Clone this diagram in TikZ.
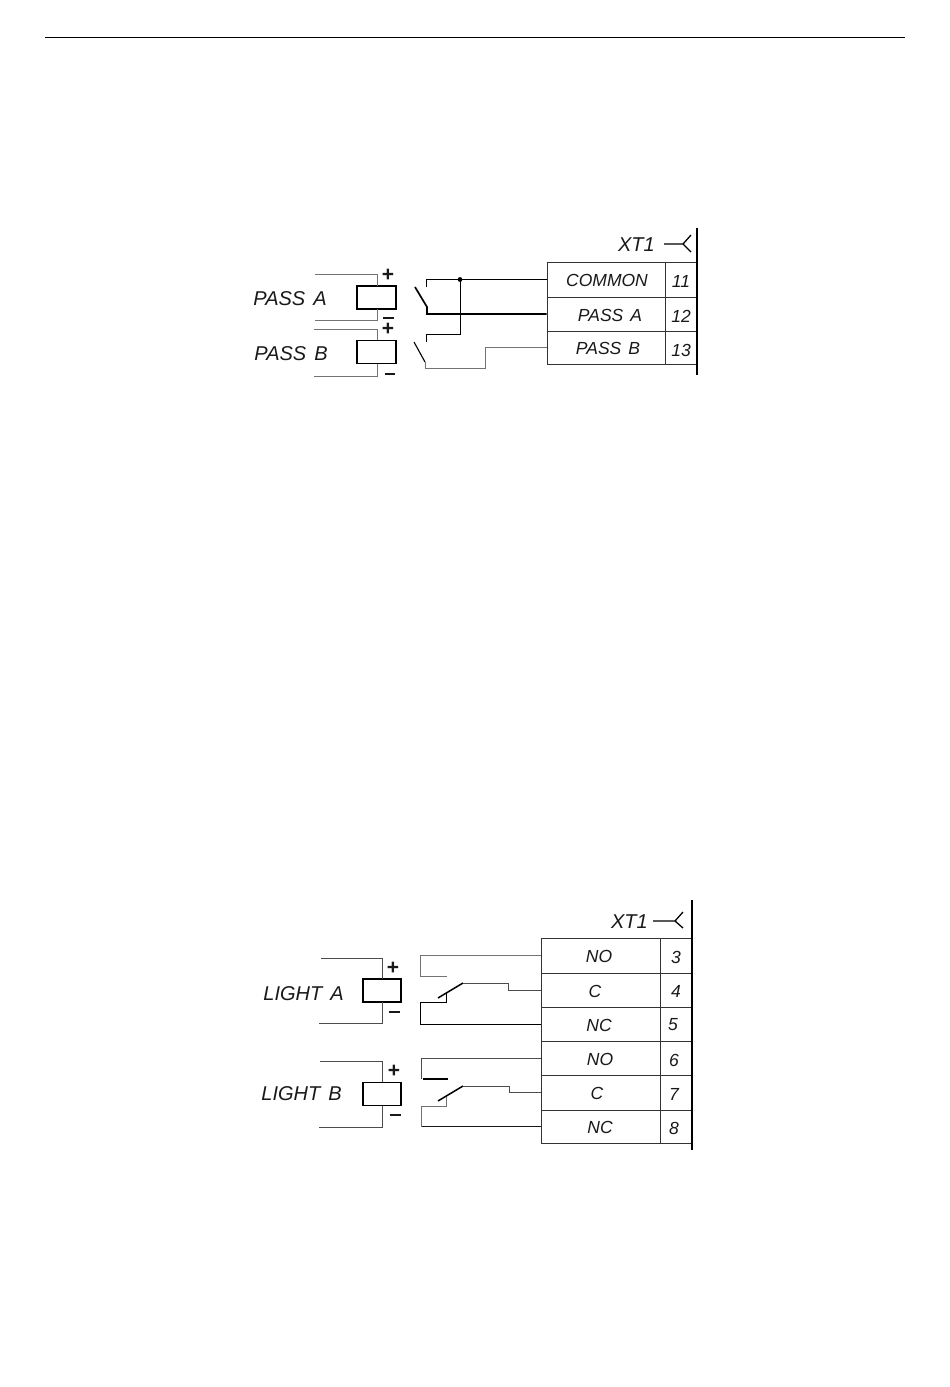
\documentclass[tikz,border=0pt]{standalone}
\usepackage{fontspec}
\setmainfont{Liberation Sans}
\tikzset{
  x=1pt,y=-1pt,
  wire/.style={line width=1pt,draw=black!70,line join=miter},
  wirelt/.style={line width=1pt,draw=black!55},
  wiredk/.style={line width=1.7pt,draw=black!90},
  coil/.style={draw=black,line width=1.9pt,rectangle,minimum width=38.5pt,minimum height=23pt,inner sep=0pt},
  cell/.style={draw=black!80,line width=1pt,rectangle,inner sep=0pt},
  lab/.style={font=\fontsize{20}{20}\selectfont\itshape,inner sep=0pt,black!90},
  cl/.style={font=\fontsize{17.5}{17.5}\selectfont\itshape,inner sep=0pt,black!90},
  sg/.style={font=\fontsize{21}{21}\selectfont\bfseries,inner sep=0pt,black!90},
  bar/.style={line width=2.4pt,draw=black},
}
\begin{document}
\begin{tikzpicture}
\useasboundingbox (0,0) rectangle (950,1387);
\fill[white] (0,0) rectangle (950,1387);
\coordinate (ruleL) at (45,37); \coordinate (ruleR) at (905,37);
\draw[line width=1pt,black] (ruleL) -- (ruleR);

% ---------- PASS ----------
\node[cell,minimum width=118pt,minimum height=35pt] (ca) at (606,279.5) {};
\node[cell,minimum width=118pt,minimum height=34pt] (cb) at (606,314) {};
\node[cell,minimum width=118pt,minimum height=33pt] (cc) at (606,347.5) {};
\node[cell,minimum width=32pt,minimum height=35pt] (na) at (681,279.5) {};
\node[cell,minimum width=32pt,minimum height=34pt] (nb) at (681,314) {};
\node[cell,minimum width=32pt,minimum height=33pt] (nc) at (681,347.5) {};
\coordinate (barT) at (697,228); \coordinate (barB) at (697,375);
\draw[bar] (barT) -- (barB);
\node[cl] (t1) at (607,280.5) {COMMON};
\node[cl] (t2) at (610,315.5) {PASS\hspace{7pt}A};
\node[cl] (t3) at (608,348.5) {PASS\hspace{7pt}B};
\node[cl] (n1) at (681,281) {11};
\node[cl] (n2) at (681,316) {12};
\node[cl] (n3) at (681,350) {13};
\node[lab,anchor=east] (x1) at (655,244.5) {XT1};
\coordinate (f1a) at (664,244); \coordinate (f1b) at (683,244);
\coordinate (f1c) at (691,235); \coordinate (f1d) at (691,252);
\draw[line width=1.3pt,black] (f1a) -- (f1b) (f1c) -- (f1b) -- (f1d);

\node[coil] (A) at (376.5,297.5) {};
\node[coil] (B) at (376.5,352) {};
\node[lab] (la) at (290,298.5) {PASS\hspace{8pt}A};
\node[lab] (lb) at (291,353.5) {PASS\hspace{8pt}B};
\coordinate (A1) at (315,274); \coordinate (A2) at (315,320);
\coordinate (B1) at (314,329); \coordinate (B2) at (314,376);
\draw[wirelt] (A1) -| (377,286);
\draw[wirelt] (377,309) |- (A2);
\draw[wirelt] (B1) -| (377,340);
\draw[wirelt] (377,364) |- (B2);
\node[sg] (pa) at (388,275) {+};
\node[sg] (ma) at (388.5,318) {\rule{11pt}{2.4pt}};
\node[sg] (pb) at (388,329) {+};
\node[sg] (mb) at (389.5,374) {\rule{10pt}{1.3pt}};

\coordinate (sa1) at (415,287); \coordinate (sa2) at (427,307);
\coordinate (sb1) at (414,342); \coordinate (sb2) at (425,362);
\coordinate (j) at (460,279.5);
\draw[line width=1.7pt,black] (sa1) -- (sa2) -- (427,314) -- (cb.west);
\draw[line width=0.9pt,black] (426,287) |- (ca.west);
\draw[line width=0.9pt,black] (j) -- (460,334) -| (426,342);
\fill[black] (j) circle (2.4pt);
\draw[line width=1.1pt,black] (sb1) -- (sb2);
\draw[wirelt] (sb2) -- (425,368) -| (485,347.5) -- (cc.west);

% ---------- LIGHT ----------
\node[cell,minimum width=119pt,minimum height=35pt] (d1) at (600.5,955.5) {};
\node[cell,minimum width=119pt,minimum height=34pt] (d2) at (600.5,990) {};
\node[cell,minimum width=119pt,minimum height=34pt] (d3) at (600.5,1024) {};
\node[cell,minimum width=119pt,minimum height=34pt] (d4) at (600.5,1058) {};
\node[cell,minimum width=119pt,minimum height=35pt] (d5) at (600.5,1092.5) {};
\node[cell,minimum width=119pt,minimum height=33pt] (d6) at (600.5,1126.5) {};
\node[cell,minimum width=32pt,minimum height=35pt] (m1) at (676,955.5) {};
\node[cell,minimum width=32pt,minimum height=34pt] (m2) at (676,990) {};
\node[cell,minimum width=32pt,minimum height=34pt] (m3) at (676,1024) {};
\node[cell,minimum width=32pt,minimum height=34pt] (m4) at (676,1058) {};
\node[cell,minimum width=32pt,minimum height=35pt] (m5) at (676,1092.5) {};
\node[cell,minimum width=32pt,minimum height=33pt] (m6) at (676,1126.5) {};
\coordinate (bar2T) at (692,900); \coordinate (bar2B) at (692,1150);
\draw[bar] (bar2T) -- (bar2B);
\node[cl] (u1) at (599,956.5) {NO};
\node[cl] (u2) at (595,991) {C};
\node[cl] (u3) at (599,1025) {NC};
\node[cl] (u4) at (600,1059.5) {NO};
\node[cl] (u5) at (597,1093.5) {C};
\node[cl] (u6) at (600,1127.5) {NC};
\node[cl] (k1) at (676,957) {3};
\node[cl] (k2) at (676,991) {4};
\node[cl] (k3) at (673,1025) {5};
\node[cl] (k4) at (674,1060) {6};
\node[cl] (k5) at (674,1094) {7};
\node[cl] (k6) at (674,1128) {8};
\node[lab,anchor=east] (x2) at (648,921.5) {XT1};
\coordinate (f2a) at (653,921); \coordinate (f2b) at (675,921);
\coordinate (f2c) at (683,912); \coordinate (f2d) at (683,928);
\draw[line width=1.3pt,black] (f2a) -- (f2b) (f2c) -- (f2b) -- (f2d);

\node[coil] (LA) at (382,990.5) {};
\node[coil] (LB) at (382,1094) {};
\node[lab] (lla) at (303.5,993.5) {LIGHT\hspace{8pt}A};
\node[lab] (llb) at (301.5,1093.5) {LIGHT\hspace{8pt}B};
\coordinate (LA1) at (321,958); \coordinate (LA2) at (319,1023);
\coordinate (LB1) at (320,1061); \coordinate (LB2) at (319,1127);
\draw[wire] (LA1) -| (382,979);
\draw[wire] (382,1002) |- (LA2);
\draw[wire] (LB1) -| (382,1082);
\draw[wire] (382,1106) |- (LB2);
\node[sg] (lpa) at (393,968) {+};
\node[sg] (lma) at (394,1012) {\rule{11pt}{2.2pt}};
\node[sg] (lpb) at (394,1071) {+};
\node[sg] (lmb) at (395,1115) {\rule{11pt}{1.3pt}};

% contact A
\draw[wirelt] (d1.west) -| (420,976) -- (447,976);
\draw[line width=1.5pt,black] (438,998) -- (463,983);
\draw[wire] (463,983) -- (508,983) |- (d2.west);
\draw[line width=0.9pt,black] (d3.west) -| (420,1002) -- (446,1002) -- (446,993);
% contact B
\draw[wire] (d4.west) -| (421,1079);
\draw[line width=1.4pt,black] (423,1079) -- (448,1079);
\draw[line width=1.5pt,black] (438,1101) -- (463,1086);
\draw[wire] (463,1086) -- (509,1086) |- (d5.west);
\draw[wiredk] (d6.west) -- (421,1126.5);
\draw[wirelt] (421,1126.5) -- (421,1106) -- (446,1106) -- (446,1097);
\end{tikzpicture}
\end{document}
